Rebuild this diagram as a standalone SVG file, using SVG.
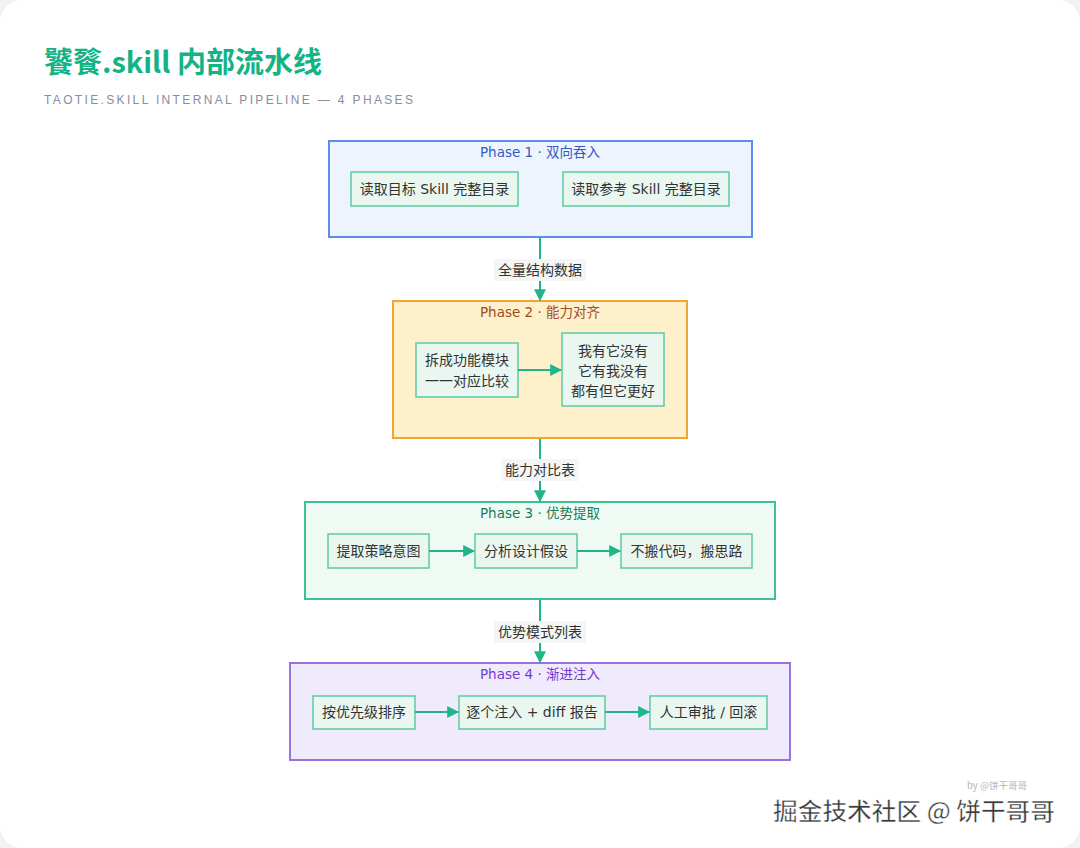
<svg xmlns="http://www.w3.org/2000/svg" width="1080" height="848" viewBox="0 0 1080 848">
<defs>
<style>
.t{font-family:"DejaVu Sans","Noto Sans CJK SC",sans-serif;font-size:14px;fill:#333;text-anchor:middle}
.ph{font-family:"DejaVu Sans","Noto Sans CJK SC",sans-serif;font-size:13.5px;text-anchor:middle}
.n{fill:#eaf7f1;stroke:#5ccaa3;stroke-width:1.5}
.c{stroke:#1fb58a;stroke-width:2;fill:none}
.lb{fill:#f3f6f4}
</style>
<marker id="a" viewBox="0 0 10 10" refX="9" refY="5" markerWidth="12" markerHeight="12" markerUnits="userSpaceOnUse" orient="auto">
<path d="M0,0 L10,5 L0,10 z" fill="#1fb58a"/>
</marker>
</defs>
<rect x="0" y="0" width="1080" height="848" fill="#f2f2f2"/>
<rect x="0" y="0" width="1080" height="848" rx="22" fill="#ffffff"/>

<g id="header">
<text x="44" y="73" font-family="'Noto Sans CJK SC','Noto Sans',sans-serif" font-size="29" font-weight="700" fill="#14b385">饕餮.skill 内部流水线</text>
<text x="44" y="104" font-family="'Liberation Sans',Arial,sans-serif" font-size="12" letter-spacing="2.35" fill="#8a8c9c">TAOTIE.SKILL INTERNAL PIPELINE — 4 PHASES</text>
</g>

<g id="phase1">
<rect x="329" y="141" width="423" height="96" fill="#eef4fd" stroke="#5b8def" stroke-width="2"/>
<text class="ph" x="540" y="157" fill="#3559c7">Phase 1 · 双向吞入</text>
</g>
<g id="p1n1"><rect class="n" x="351" y="172" width="167" height="34"/><text class="t" x="434.5" y="194">读取目标 Skill 完整目录</text></g>
<g id="p1n2"><rect class="n" x="563" y="172" width="166" height="34"/><text class="t" x="646" y="194">读取参考 Skill 完整目录</text></g>

<g id="phase2">
<rect x="393" y="301" width="294" height="137" fill="#fdf0ca" stroke="#f3a332" stroke-width="2"/>
<text class="ph" x="540" y="317" fill="#a34a22">Phase 2 · 能力对齐</text>
</g>
<g id="p2n1"><rect class="n" x="416" y="343" width="102" height="54"/><text class="t" x="467" y="365">拆成功能模块</text><text class="t" x="467" y="386">一一对应比较</text></g>
<g id="p2n2"><rect class="n" x="562" y="333" width="102" height="73"/><text class="t" x="613" y="356">我有它没有</text><text class="t" x="613" y="376">它有我没有</text><text class="t" x="613" y="396">都有但它更好</text></g>

<g id="phase3">
<rect x="305" y="502" width="470" height="97" fill="#effaf5" stroke="#3cc190" stroke-width="2"/>
<text class="ph" x="540" y="518" fill="#1c7a58">Phase 3 · 优势提取</text>
</g>
<g id="p3n1"><rect class="n" x="328" y="534" width="101" height="34"/><text class="t" x="378.5" y="556">提取策略意图</text></g>
<g id="p3n2"><rect class="n" x="475" y="534" width="102" height="34"/><text class="t" x="526" y="556">分析设计假设</text></g>
<g id="p3n3"><rect class="n" x="621" y="534" width="131" height="34"/><text class="t" x="686.5" y="556">不搬代码，搬思路</text></g>

<g id="phase4">
<rect x="290" y="663" width="500" height="97" fill="#efeafc" stroke="#9b6fde" stroke-width="2"/>
<text class="ph" x="540" y="679" fill="#7838d0">Phase 4 · 渐进注入</text>
</g>
<g id="p4n1"><rect class="n" x="313" y="696" width="102" height="33"/><text class="t" x="364" y="717">按优先级排序</text></g>
<g id="p4n2"><rect class="n" x="459" y="696" width="146" height="33"/><text class="t" x="532" y="717">逐个注入 + diff 报告</text></g>
<g id="p4n3"><rect class="n" x="650" y="696" width="117" height="33"/><text class="t" x="708.5" y="717">人工审批 / 回滚</text></g>

<g id="connectors">
<line class="c" x1="540" y1="238" x2="540" y2="300" marker-end="url(#a)"/>
<rect class="lb" x="494" y="259" width="92" height="22"/>
<text class="t" x="540" y="275">全量结构数据</text>
<line class="c" x1="540" y1="439" x2="540" y2="501" marker-end="url(#a)"/>
<rect class="lb" x="501" y="459" width="78" height="22"/>
<text class="t" x="540" y="475">能力对比表</text>
<line class="c" x1="540" y1="600" x2="540" y2="662" marker-end="url(#a)"/>
<rect class="lb" x="494" y="621" width="92" height="22"/>
<text class="t" x="540" y="637">优势模式列表</text>
<line class="c" x1="518" y1="370" x2="561" y2="370" marker-end="url(#a)"/>
<line class="c" x1="429" y1="551" x2="474" y2="551" marker-end="url(#a)"/>
<line class="c" x1="577" y1="551" x2="620" y2="551" marker-end="url(#a)"/>
<line class="c" x1="415" y1="712" x2="458" y2="712" marker-end="url(#a)"/>
<line class="c" x1="605" y1="712" x2="649" y2="712" marker-end="url(#a)"/>
</g>

<g id="watermark">
<text x="967" y="789" font-family="'Noto Sans CJK SC',sans-serif" font-size="9.5" fill="#b4b4bc">by @饼干哥哥</text>
<text x="773" y="820" font-family="'Noto Sans CJK SC',sans-serif" font-size="23.5" font-weight="500" fill="#3a3a3a" stroke="#ffffff" stroke-width="0.5" textLength="282" lengthAdjust="spacingAndGlyphs">掘金技术社区 @ 饼干哥哥</text>
</g>
</svg>
